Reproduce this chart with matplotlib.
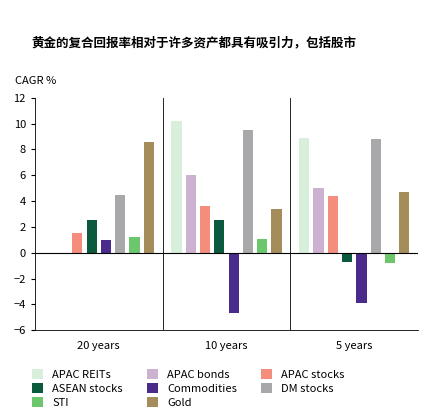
import numpy as np
import matplotlib.pyplot as plt

plt.rcParams['font.family'] = ['Noto Sans CJK SC', 'DejaVu Sans']

groups = ['20 years', '10 years', '5 years']
series = ['APAC REITs', 'APAC bonds', 'APAC stocks', 'ASEAN stocks',
          'Commodities', 'DM stocks', 'STI', 'Gold']
values = {
    'APAC REITs':   [np.nan, 10.2, 8.9],
    'APAC bonds':   [np.nan, 6.0, 5.0],
    'APAC stocks':  [1.5, 3.6, 4.4],
    'ASEAN stocks': [2.5, 2.5, -0.7],
    'Commodities':  [1.0, -4.7, -3.9],
    'DM stocks':    [4.5, 9.5, 8.8],
    'STI':          [1.2, 1.1, -0.8],
    'Gold':         [8.6, 3.4, 4.7],
}
colors = ['#d8efdc', '#cdb1d0', '#f48d7b', '#0b5a3e',
          '#4a2a8a', '#a8a8aa', '#6cc66c', '#a48c5b']

fig = plt.figure(figsize=(4.42, 4.18), dpi=100)
ax = fig.add_axes([0.079, 0.21, 0.867, 0.556])

x = np.arange(len(groups))
pitch = 0.112
for i, s in enumerate(series):
    ax.bar(x + (i - 3.5) * pitch, values[s], width=0.08, color=colors[i], label=s)

ax.set_xlim(-0.5, 2.5)
ax.set_ylim(-6, 12)
ax.set_yticks(range(-6, 13, 2))
ax.set_xticks(x)
ax.set_xticklabels(groups)
ax.tick_params(labelsize=8, length=3)
ax.tick_params(axis='x', length=0, pad=8)
ax.axhline(0, color='black', lw=0.8)
for b in [0.5, 1.5]:
    ax.axvline(b, color='black', lw=0.6)
ax.spines['top'].set_visible(False)
ax.spines['right'].set_visible(False)
for sp in ax.spines.values():
    sp.set_linewidth(0.6)

fig.text(0.07, 0.89, '黄金的复合回报率相对于许多资产都具有吸引力，包括股市',
         fontsize=9, fontweight='bold')
fig.text(0.035, 0.8, 'CAGR %', fontsize=8, style='italic')

# legend filled row by row
h, l = ax.get_legend_handles_labels()
order = [0, 3, 6, 1, 4, 7, 2, 5]
fig.legend([h[k] for k in order], [l[k] for k in order],
           loc='lower left', bbox_to_anchor=(0.05, 0.0), ncol=3, frameon=False,
           fontsize=8, handlelength=1.0, handleheight=1.0, columnspacing=2.2,
           labelspacing=0.3)

fig.savefig('out.png', dpi=100)
